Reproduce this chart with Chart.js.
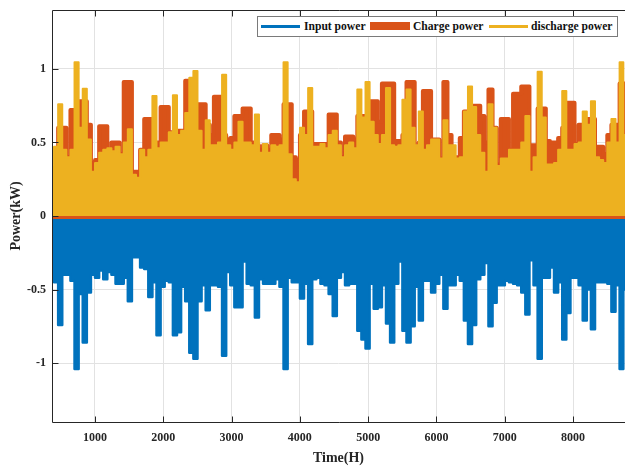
<!DOCTYPE html>
<html>
<head>
<meta charset="utf-8">
<script src="https://cdn.jsdelivr.net/npm/chart.js@4.4.1/dist/chart.umd.min.js"></script>
<style>
html,body{margin:0;padding:0;background:#fff;}
#wrap{position:relative;width:625px;height:468px;overflow:hidden;}
#legend{position:absolute;left:257px;top:16px;width:359px;height:19px;border:1px solid #7a7a7a;background:#fff;
  font-family:'Liberation Serif','Times New Roman',serif;font-weight:bold;font-size:11.6px;color:#111;}
#legend .sw{position:absolute;}
#legend .tx{position:absolute;top:1px;line-height:17px;white-space:nowrap;}
</style>
</head>
<body>
<div id="wrap">
<canvas id="c" width="625" height="468"></canvas>
<div id="legend"></div>
</div>
<script>
// ---- data ----
const seriesNames = ['Input power', 'Charge power', 'discharge power'];
const xTickValues = [1000, 2000, 3000, 4000, 5000, 6000, 7000, 8000];
const yTickValues = [-1, -0.5, 0, 0.5, 1];
const hourStart = 371, hourStep = 60, hourEnd = 8760;

const chargePower = [
0.32,0.32,0.60,0.60,0.40,0.72,0.72,0.78,0.78,0.62,
0.36,0.38,0.61,0.61,0.45,0.50,0.50,0.42,0.91,0.91,
0.30,0.30,0.45,0.66,0.66,0.50,0.50,0.74,0.74,0.57,
0.55,0.58,0.58,0.92,0.92,0.60,0.76,0.76,0.62,0.55,
0.81,0.81,0.55,0.52,0.53,0.68,0.68,0.73,0.73,0.50,
0.48,0.45,0.48,0.45,0.55,0.55,0.52,0.76,0.76,0.40,
0.38,0.55,0.71,0.71,0.49,0.49,0.49,0.49,0.69,0.69,
0.50,0.40,0.54,0.54,0.52,0.68,0.68,0.60,0.78,0.78,
0.64,0.90,0.90,0.90,0.51,0.51,0.55,0.91,0.91,0.45,
0.50,0.85,0.85,0.52,0.52,0.39,0.91,0.55,0.39,0.40,
0.53,0.71,0.60,0.75,0.75,0.68,0.50,0.86,0.60,0.35,
0.66,0.66,0.45,0.83,0.83,0.88,0.88,0.48,0.48,0.73,
0.73,0.51,0.50,0.50,0.53,0.60,0.77,0.77,0.49,0.62,
0.62,0.66,0.66,0.47,0.47,0.42,0.55,0.62,0.62,0.90,0.90];

const dischargePower = [
0.33,0.47,0.76,0.45,0.40,0.45,1.045,0.60,0.865,0.52,
0.30,0.36,0.43,0.45,0.46,0.44,0.47,0.42,0.50,0.59,
0.28,0.26,0.45,0.40,0.45,0.815,0.46,0.50,0.50,0.57,
0.82,0.55,0.58,0.70,0.94,0.985,0.58,0.45,0.65,0.48,
0.48,0.50,0.96,0.48,0.45,0.50,0.64,0.50,0.50,0.48,
0.69,0.43,0.49,0.43,0.48,0.47,0.48,1.045,0.42,0.25,
0.23,0.60,0.55,0.87,0.47,0.47,0.49,0.46,0.55,0.58,
0.48,0.40,0.48,0.50,0.46,0.86,0.67,0.91,0.64,0.55,
0.49,0.55,0.87,0.48,0.47,0.48,0.79,0.86,0.60,0.48,
0.71,0.45,0.48,0.52,0.52,0.39,0.65,0.48,0.48,0.39,
0.40,0.71,0.88,0.74,0.55,0.43,0.30,0.76,0.60,0.34,
0.39,0.39,0.45,0.45,0.45,0.50,0.68,0.30,0.40,0.98,
0.67,0.35,0.35,0.36,0.45,0.85,0.45,0.45,0.49,0.50,
0.71,0.62,0.78,0.40,0.38,0.36,0.50,0.66,0.50,1.045,0.55];

const inputPower = [
-0.34,-0.45,-0.74,-0.40,-0.40,-0.44,-1.04,-0.53,-0.86,-0.52,
-0.40,-0.42,-0.37,-0.43,-0.38,-0.40,-0.46,-0.46,-0.42,-0.58,
-0.28,-0.28,-0.35,-0.36,-0.55,-0.45,-0.81,-0.48,-0.44,-0.45,
-0.81,-0.79,-0.48,-0.58,-0.93,-0.97,-0.58,-0.47,-0.64,-0.47,
-0.47,-0.48,-0.95,-0.38,-0.47,-0.62,-0.62,-0.31,-0.46,-0.47,
-0.69,-0.43,-0.46,-0.46,-0.46,-0.43,-0.48,-1.04,-0.42,-0.45,
-0.45,-0.56,-0.46,-0.87,-0.43,-0.42,-0.46,-0.47,-0.53,-0.68,
-0.42,-0.38,-0.47,-0.46,-0.46,-0.78,-0.84,-0.90,-0.46,-0.63,
-0.62,-0.47,-0.73,-0.86,-0.46,-0.31,-0.78,-0.86,-0.75,-0.48,
-0.71,-0.44,-0.44,-0.52,-0.46,-0.40,-0.63,-0.47,-0.47,-0.40,
-0.44,-0.71,-0.87,-0.74,-0.43,-0.40,-0.32,-0.75,-0.59,-0.47,
-0.47,-0.44,-0.45,-0.46,-0.47,-0.52,-0.67,-0.30,-0.47,-0.97,
-0.42,-0.42,-0.35,-0.52,-0.45,-0.84,-0.66,-0.42,-0.42,-0.47,
-0.71,-0.50,-0.77,-0.45,-0.45,-0.45,-0.46,-0.65,-0.47,-1.04,-0.50];

// sampling hours of the series
const hours = [];
for (let i = 0; i < chargePower.length - 1; i++) hours.push(hourStart + hourStep * i);
hours.push(hourEnd);

const COLORS = ['#0072BD', '#D95319', '#EDB120'];
const pts = arr => arr.map((v, i) => ({x: hours[i], y: v}));

const FONT = "'Liberation Serif','Times New Roman',serif";
const AXC = '#262626';

const framePlugin = {
  id: 'frame',
  afterDatasetsDraw(chart) {
    const {ctx, chartArea: a, scales: {y}} = chart;
    const y0 = y.getPixelForValue(0);
    ctx.save();
    ctx.strokeStyle = COLORS[1];
    ctx.lineWidth = 3;
    ctx.beginPath();
    ctx.moveTo(a.left, y0 + 1.5);
    ctx.lineTo(a.right, y0 + 1.5);
    ctx.stroke();
    ctx.restore();
  },
  afterDraw(chart) {
    const {ctx, chartArea: a, scales: {x, y}} = chart;
    ctx.save();
    ctx.strokeStyle = AXC;
    ctx.lineWidth = 1;
    ctx.beginPath();
    const L = Math.round(a.left) + 0.5, T = Math.round(a.top) + 0.5, B = Math.round(a.bottom) + 0.5, R = a.right + 1;
    ctx.moveTo(L, B); ctx.lineTo(L, T); ctx.lineTo(R, T);
    ctx.moveTo(L, B); ctx.lineTo(R, B);
    const tl = 6;
    x.ticks.forEach(t => {
      const px = Math.round(x.getPixelForValue(t.value)) + 0.5;
      ctx.moveTo(px, B); ctx.lineTo(px, B - tl);
      ctx.moveTo(px, T); ctx.lineTo(px, T + tl);
    });
    y.ticks.forEach(t => {
      const py = Math.round(y.getPixelForValue(t.value)) + 0.5;
      ctx.moveTo(L, py); ctx.lineTo(L + tl, py);
    });
    ctx.stroke();
    ctx.restore();
  }
};

const common = {fill: 'origin', stepped: 'middle', pointRadius: 0, borderJoinStyle: 'round', borderCapStyle: 'round'};
const noPad = s => { s.paddingTop = 0; s.paddingBottom = 0; s.paddingLeft = 0; s.paddingRight = 0; };

new Chart(document.getElementById('c'), {
  type: 'line',
  data: {
    datasets: [
      Object.assign({label: seriesNames[0], data: pts(inputPower), borderColor: COLORS[0], backgroundColor: COLORS[0], borderWidth: 2.5, order: 0}, common),
      Object.assign({label: seriesNames[1], data: pts(chargePower), borderColor: COLORS[1], backgroundColor: COLORS[1], borderWidth: 4, order: 2}, common),
      Object.assign({label: seriesNames[2], data: pts(dischargePower), borderColor: COLORS[2], backgroundColor: COLORS[2], borderWidth: 2, order: 1}, common)
    ]
  },
  options: {
    responsive: false,
    animation: false,
    layout: {padding: {top: 10, right: 0, bottom: 0, left: 0}},
    plugins: {legend: {display: false}, tooltip: {enabled: false}},
    scales: {
      x: {
        type: 'linear', min: hourStart, max: hourEnd,
        afterBuildTicks: s => { s.ticks = xTickValues.map(v => ({value: v})); },
        afterFit: s => { s.height = 46; noPad(s); },
        grid: {color: '#e2e2e2', lineWidth: 1, drawTicks: false},
        border: {display: false},
        ticks: {padding: 9, color: AXC, font: {family: FONT, weight: 'bold', size: 12}, maxRotation: 0, callback: v => String(v)},
        title: {display: true, text: 'Time(H)', color: AXC, font: {family: FONT, weight: 'bold', size: 14}, padding: {top: 0, bottom: 1.5}}
      },
      y: {
        min: -1.4, max: 1.4,
        afterBuildTicks: s => { s.ticks = yTickValues.map(v => ({value: v})); },
        afterFit: s => { s.width = 52; noPad(s); },
        grid: {color: '#e2e2e2', lineWidth: 1, drawTicks: false},
        border: {display: false},
        ticks: {padding: 6, color: AXC, font: {family: FONT, weight: 'bold', size: 12}, callback: v => String(v)},
        title: {display: true, text: 'Power(kW)', color: AXC, font: {family: FONT, weight: 'bold', size: 14}, padding: {top: 7.6, bottom: 0}}
      }
    }
  },
  plugins: [framePlugin]
});

// legend (MATLAB-style box inside the axes)
const lg = document.getElementById('legend');
const items = [
  {sw: {left: 3, top: 8, width: 39, height: 3}, tx: 46},
  {sw: {left: 112, top: 5, width: 40, height: 8}, tx: 155},
  {sw: {left: 231, top: 8, width: 39, height: 3}, tx: 273}
];
items.forEach((it, i) => {
  const s = document.createElement('div');
  s.className = 'sw';
  Object.assign(s.style, {left: it.sw.left + 'px', top: it.sw.top + 'px', width: it.sw.width + 'px', height: it.sw.height + 'px', background: COLORS[i]});
  lg.appendChild(s);
  const t = document.createElement('div');
  t.className = 'tx';
  t.style.left = it.tx + 'px';
  t.textContent = seriesNames[i];
  lg.appendChild(t);
});
</script>
</body>
</html>
